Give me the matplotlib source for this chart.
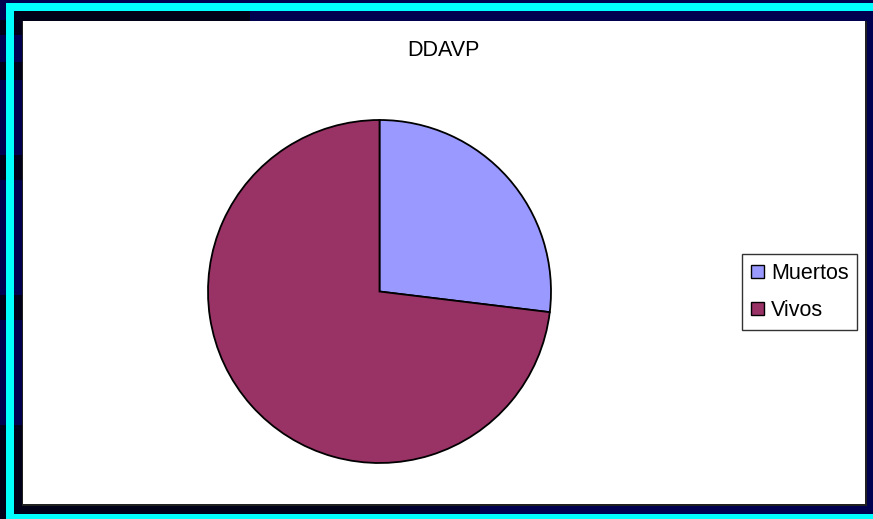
import matplotlib.pyplot as plt
from matplotlib.patches import Rectangle

plt.rcParams['font.family'] = ['Liberation Sans', 'DejaVu Sans']

labels = ['Muertos', 'Vivos']
values = [7, 19]
colors = ['#9999FF', '#993366']
title = 'DDAVP'

W, H = 873, 519
fig = plt.figure(figsize=(W / 100, H / 100), dpi=100)
fig.patch.set_facecolor('#000050')


def px_rect(x0, y0, x1, y1, color, z=0):
    # rectangle given in pixel coords measured from the top-left corner
    r = Rectangle((x0 / W, 1 - y1 / H), (x1 - x0) / W, (y1 - y0) / H,
                  transform=fig.transFigure, facecolor=color,
                  edgecolor='none', zorder=z)
    fig.patches.append(r)


# dark patches of the slide background
dark = '#000018'
px_rect(14, 11, 250, 21, dark)
px_rect(0, 20, 23, 35, dark)
px_rect(0, 62, 23, 80, dark)
px_rect(0, 155, 23, 180, dark)
px_rect(0, 295, 23, 320, dark)
px_rect(0, 425, 23, 519, dark)
px_rect(14, 504, 400, 514, dark)
px_rect(400, 504, 480, 514, '#000030')
# cyan frame lines
px_rect(6, 3, 873, 11, '#00FFFF', z=1)
px_rect(6, 3, 14, 519, '#00FFFF', z=1)
px_rect(6, 514, 873, 519, '#00FFFF', z=1)
# chart area with shadow edge
px_rect(22, 21, 867, 506, '#202020', z=2)
px_rect(23, 21, 865, 504, 'white', z=3)

fig.text(443 / W, 1 - 50 / H, title, ha='center', va='center',
         fontsize=15.5, zorder=5)

cx, cy, r = 379.5, 291.5, 171.5
ax = fig.add_axes([(cx - r) / W, 1 - (cy + r) / H, 2 * r / W, 2 * r / H])
ax.set_zorder(5)
wedges, _ = ax.pie(values, colors=colors, startangle=90, counterclock=False,
                   radius=1, wedgeprops={'edgecolor': 'black', 'linewidth': 1.3})
ax.set_xlim(-1, 1)
ax.set_ylim(-1, 1)
ax.set_aspect('equal')
ax.axis('off')

leg = fig.legend(wedges, labels, loc='center left',
                 bbox_to_anchor=(742 / W, 1 - 292 / H), fontsize=15.5,
                 frameon=True, fancybox=False, edgecolor='black',
                 handlelength=0.6, handleheight=0.6, handletextpad=0.35,
                 labelspacing=0.75, borderpad=0.4, borderaxespad=0)
leg.get_frame().set_linewidth(1)
leg.set_zorder(6)
for h in leg.legend_handles:
    h.set_linewidth(1)

fig.savefig('out.png', dpi=100, facecolor=fig.get_facecolor())
